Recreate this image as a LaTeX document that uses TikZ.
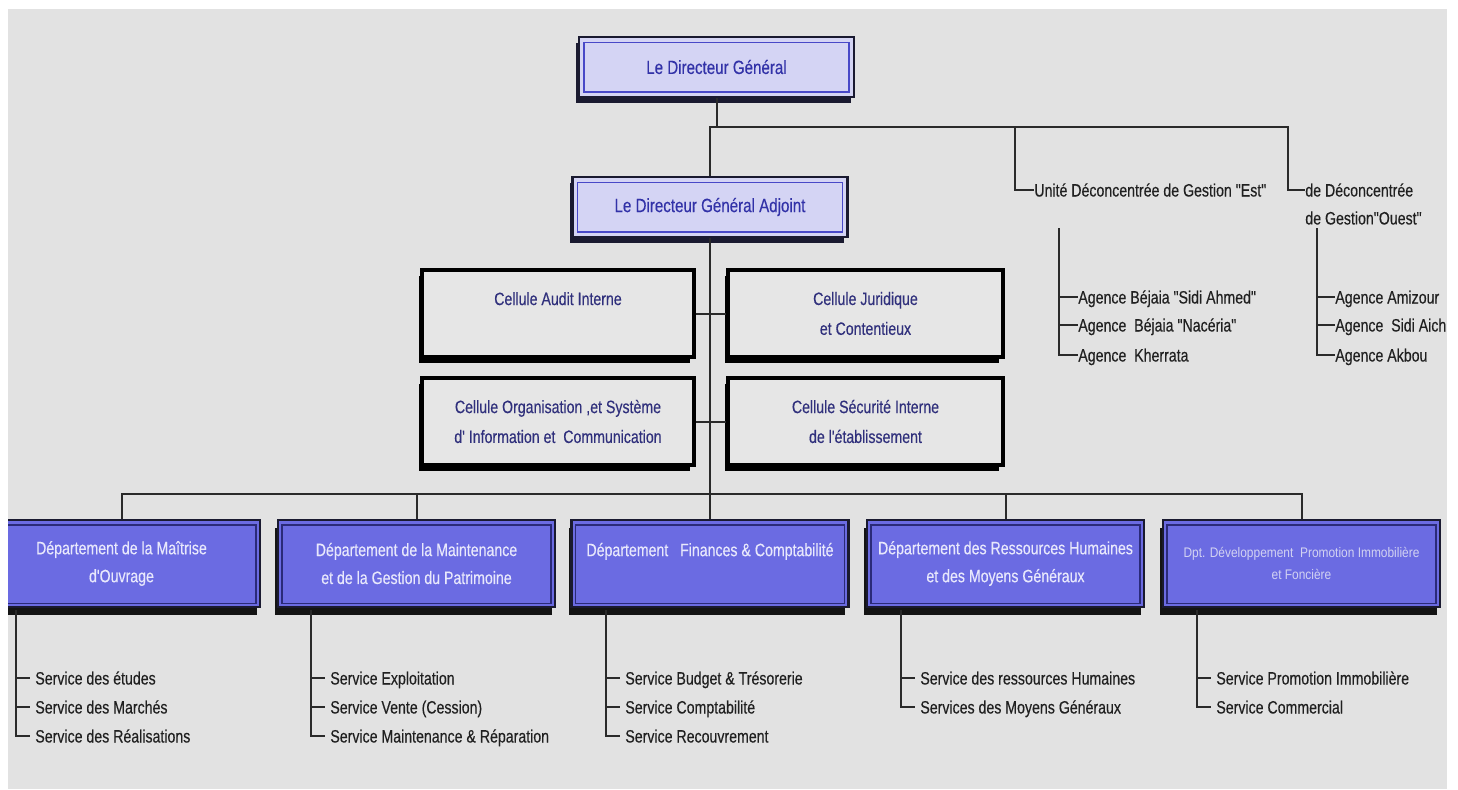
\documentclass[tikz,border=0pt]{standalone}
\usepackage{fontspec}
\setmainfont{Liberation Sans}[FakeStretch=0.79, FakeBold=0.3, Ligatures=TeXOff]
\newfontfamily\dfivefont{Liberation Sans}[FakeStretch=0.86, Ligatures=TeXOff]
\usetikzlibrary{shadows}
\definecolor{bgc}{HTML}{E2E2E2}
\definecolor{lav}{HTML}{D4D4F4}
\definecolor{lavline}{HTML}{4848C8}
\definecolor{toptxt}{HTML}{3232A8}
\definecolor{frame}{HTML}{1A1A30}
\definecolor{deptblue}{HTML}{6B6BE2}
\definecolor{deptline}{HTML}{2A2A78}
\definecolor{depttxt}{HTML}{E8E8FC}
\definecolor{dfivetxt}{HTML}{D2D2F2}
\definecolor{celltxt}{HTML}{30307C}
\definecolor{cellfill}{HTML}{E6E6E6}
\definecolor{lnc}{HTML}{2A2A2A}
\definecolor{svtxt}{HTML}{202020}
\tikzset{
  conn/.style={draw=lnc, line width=0.04cm},
  basefont/.style={font=\fontsize{10.2}{15.9}\selectfont},
  topbox/.style={font=\fontsize{10.9}{15.9}\selectfont, draw=frame, line width=0.05cm, fill=lav,
    text=toptxt, align=center, minimum width=5.5cm, minimum height=1.2cm, inner sep=0pt,
    general shadow={fill=frame, shadow xshift=-0.06cm, shadow yshift=-0.12cm},
    path picture={\draw[lavline, line width=0.03cm]
      ([shift={(0.1cm,-0.11cm)}]path picture bounding box.north west) rectangle
      ([shift={(-0.1cm,0.1cm)}]path picture bounding box.south east);}},
  cellbox/.style={font=\fontsize{10.2}{17}\selectfont, draw=black, line width=0.065cm, fill=cellfill,
    text=celltxt, align=center, minimum height=1.74cm, inner sep=0pt,
    general shadow={fill=black, shadow xshift=-0.07cm, shadow yshift=-0.11cm}},
  deptbox/.style={basefont, draw=frame, line width=0.045cm, fill=deptblue, text=depttxt,
    align=center, minimum width=5.54cm, minimum height=1.74cm, inner sep=0pt,
    general shadow={fill=black!92, shadow xshift=-0.06cm, shadow yshift=-0.16cm},
    path picture={\draw[deptline, line width=0.025cm]
      ([shift={(0.08cm,-0.1cm)}]path picture bounding box.north west) rectangle
      ([shift={(-0.08cm,0.07cm)}]path picture bounding box.south east);}},
  svc/.style={basefont, text=svtxt, anchor=west, text height=0.26cm, text depth=0pt,
    inner xsep=0.1cm, inner ysep=0pt},
  agc/.style={svc, inner xsep=0pt},
  unitlbl/.style={basefont, text=svtxt, inner sep=0pt}
}
\begin{document}
\begin{tikzpicture}[x=0.02cm,y=-0.02cm]
\useasboundingbox (0,0) rectangle (1458,789);
\fill[white] (0,0) rectangle (1458,789);
\fill[bgc] (8,9) rectangle (1447,789);

% top boxes
\node[topbox] (dg) at (716.5,67) {Le Directeur Général};
\node[topbox] (adj) at (710,207) {Le Directeur Général Adjoint};

% cellules
\node[cellbox, minimum width=5.44cm] (audit) at (558,313.5) {Cellule Audit Interne\\\mbox{}};
\node[cellbox, minimum width=5.5cm] (jur) at (865.5,313.5) {Cellule Juridique\\et Contentieux};
\node[cellbox, minimum width=5.44cm] (org) at (558,421.5) {Cellule Organisation ,et Système\\d' Information et\ \ Communication};
\node[cellbox, minimum width=5.5cm] (sec) at (865.5,421.5) {Cellule Sécurité Interne\\de l'établissement};

% departments
\node[deptbox] (d1) at (121.5,563.5) {Département de la Maîtrise\\d'Ouvrage};
\node[deptbox] (d2) at (416.5,563.5) {Département de la Maintenance\\et de la Gestion du Patrimoine};
\node[deptbox] (d3) at (710,563.5) {Département\ \ \ Finances \& Comptabilité\\\mbox{}};
\node[deptbox] (d4) at (1005.5,563.5) {Département des Ressources Humaines\\et des Moyens Généraux};
\node[deptbox, text=dfivetxt, font=\dfivefont\fontsize{7.9}{12.5}\selectfont] (d5) at (1301.5,563.5)
  {Dpt. Développement\ \ Promotion Immobilière\\et Foncière};

% units
\node[unitlbl, anchor=west, text height=0.26cm, text depth=0pt] (est) at (1034,190) {Unité Déconcentrée de Gestion "Est"};
\node[unitlbl, anchor=base west] (ouest) at (1305,196.5)
  {\begin{tabular}[t]{@{}l@{}}de Déconcentrée\\de Gestion"Ouest"\end{tabular}};
\coordinate (ouestin) at (1305,190);
\coordinate (jest) at (1015,127);
\coordinate (jouest) at (1288,127);

% agencies
\coordinate (ve) at (1059,228);
\node[agc] (a1) at (1078,297) {Agence Béjaia "Sidi Ahmed"};
\node[agc] (a2) at (1078,325) {Agence\ \ Béjaia "Nacéria"};
\node[agc] (a3) at (1078,355) {Agence\ \ Kherrata};
\coordinate (vo) at (1317,228);
\node[agc] (o1) at (1335,297) {Agence Amizour};
\node[agc] (o2) at (1335,325) {Agence\ \ Sidi Aich};
\node[agc] (o3) at (1335,355) {Agence Akbou};

% services
\coordinate (v1) at (16,610);
\node[svc] (s11) at (30,678) {Service des études};
\node[svc] (s12) at (30,707) {Service des Marchés};
\node[svc] (s13) at (30,736) {Service des Réalisations};
\coordinate (v2) at (311,610);
\node[svc] (s21) at (325,678) {Service Exploitation};
\node[svc] (s22) at (325,707) {Service Vente (Cession)};
\node[svc] (s23) at (325,736) {Service Maintenance \& Réparation};
\coordinate (v3) at (606,610);
\node[svc] (s31) at (620,678) {Service Budget \& Trésorerie};
\node[svc] (s32) at (620,707) {Service Comptabilité};
\node[svc] (s33) at (620,736) {Service Recouvrement};
\coordinate (v4) at (901,610);
\node[svc] (s41) at (915,678) {Service des ressources Humaines};
\node[svc] (s42) at (915,707) {Services des Moyens Généraux};
\coordinate (v5) at (1197,610);
\node[svc] (s51) at (1211,678) {Service Promotion Immobilière};
\node[svc] (s52) at (1211,707) {Service Commercial};

% connectors top
\draw[conn] (dg.south) -- (dg.south |- jest);
\draw[conn] (adj.north) |- (jouest) |- (ouestin);
\draw[conn] (jest) |- (est.west);
\draw[conn] (ve) |- (a3.west);
\draw[conn] (a1.west -| ve) -- (a1.west);
\draw[conn] (a2.west -| ve) -- (a2.west);
\draw[conn] (vo) |- (o3.west);
\draw[conn] (o1.west -| vo) -- (o1.west);
\draw[conn] (o2.west -| vo) -- (o2.west);

% trunk
\coordinate (bar) at (710,494);
\draw[conn] (adj.south) -- (d3.north);
\draw[conn] (audit.east) -- (jur.west);
\draw[conn] (org.east) -- (sec.west);
\draw[conn] (d1.north) |- (bar) -| (d5.north);
\draw[conn] (d2.north) -- (d2.north |- bar);
\draw[conn] (d4.north) -- (d4.north |- bar);

% services connectors
\draw[conn] (v1) |- (s13.west);
\draw[conn] (s11.west -| v1) -- (s11.west);
\draw[conn] (s12.west -| v1) -- (s12.west);
\draw[conn] (v2) |- (s23.west);
\draw[conn] (s21.west -| v2) -- (s21.west);
\draw[conn] (s22.west -| v2) -- (s22.west);
\draw[conn] (v3) |- (s33.west);
\draw[conn] (s31.west -| v3) -- (s31.west);
\draw[conn] (s32.west -| v3) -- (s32.west);
\draw[conn] (v4) |- (s42.west);
\draw[conn] (s41.west -| v4) -- (s41.west);
\draw[conn] (v5) |- (s52.west);
\draw[conn] (s51.west -| v5) -- (s51.west);

% left margin
\fill[white] (0,0) rectangle (8,789);
\end{tikzpicture}
\end{document}
